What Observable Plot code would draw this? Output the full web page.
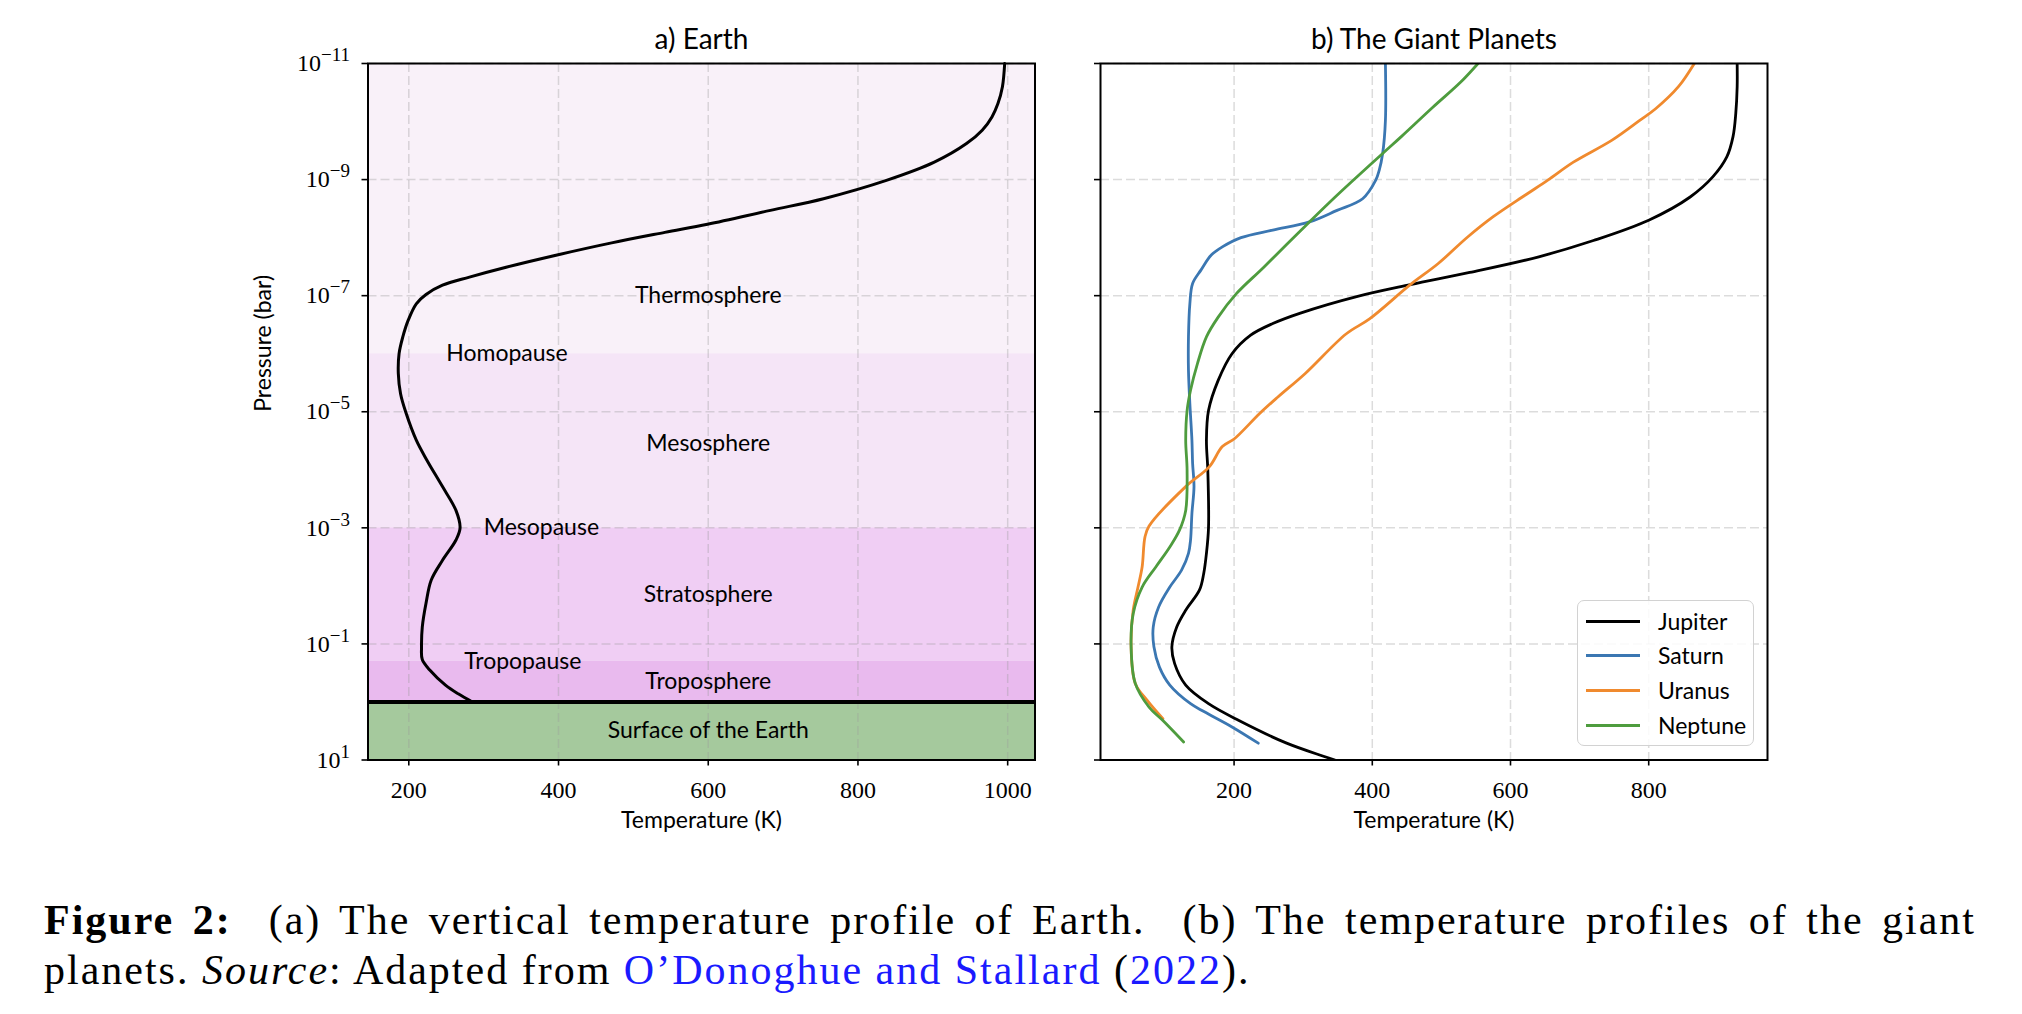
<!DOCTYPE html>
<html>
<head>
<meta charset="utf-8">
<script src="https://cdn.jsdelivr.net/npm/d3@7"></script>
<script src="https://cdn.jsdelivr.net/npm/@observablehq/plot@0.6"></script>
<style>
  body { margin: 0; background: #fff; }
  #fig { position: relative; width: 2022px; height: 1014px; overflow: hidden; }
  #earth { position: absolute; left: 0; top: 0; }
  #giants { position: absolute; left: 1060px; top: 0; }
  #legend {
    position: absolute; left: 1577px; top: 600px; width: 177px; height: 146px;
    box-sizing: border-box; border: 1.5px solid #d2d2d2; border-radius: 7px;
    background: rgba(255,255,255,0.85); font-family: Lato, sans-serif; font-size: 23px;
  }
  #legend .item { position: absolute; left: 8px; height: 30px; display: flex; align-items: center; transform: translateY(-50%); }
  #legend .sw { width: 54px; height: 3px; margin-right: 18px; }
  .caption {
    position: absolute; left: 44px; width: 1932px; font-family: "Liberation Serif", serif;
    font-size: 42px; line-height: 42px; letter-spacing: 2px; color: #000; white-space: nowrap;
  }
  #cap1 { top: 899px; text-align: justify; text-align-last: justify; white-space: normal; }
  #cap2 { top: 949px; }
  .ref { color: #1a1aff; }
</style>
</head>
<body>
<div id="fig">
  <div id="earth"></div>
  <div id="giants"></div>
  <div id="legend"></div>
  <div class="caption" id="cap1"><b>Figure 2:</b>&nbsp; (a) The vertical temperature profile of Earth.&nbsp; (b) The temperature profiles of the giant</div>
  <div class="caption" id="cap2">planets. <i>Source</i>: Adapted from <span class="ref">O’Donoghue and Stallard</span> (<span class="ref">2022</span>).</div>
</div>
<script>
// ---- Earth: temperature (K) against log10 pressure (bar) ----
const earthT = [996, 993, 987, 979, 966, 945, 902, 839, 754, 683, 599, 542, 471, 401, 330, 281, 245, 223, 210, 199, 192, 187, 186, 189, 196, 210, 224, 245, 263, 268.5, 263, 245, 230, 223, 218, 217, 218, 228, 249, 266, 285];
const earthLogP = [-11, -10.6, -10.31, -10.08, -9.85, -9.62, -9.30, -8.99, -8.67, -8.47, -8.23, -8.09, -7.91, -7.71, -7.49, -7.32, -7.18, -7.02, -6.86, -6.57, -6.29, -6.0, -5.66, -5.31, -4.99, -4.51, -4.17, -3.71, -3.30, -3.0, -2.79, -2.44, -2.10, -1.70, -1.29, -0.95, -0.73, -0.55, -0.29, -0.14, 0.0];

// Atmospheric layers (pressure bounds in bar) and their shading
const bandTop = [1e-11, 1e-6, 1e-3, 0.2, 1];
const bandBottom = [1e-6, 1e-3, 0.2, 1, 10];
const bandColors = ["#f9f1f9", "#f5e5f7", "#f0cef4", "#e9baee", "#a5c99d"];

// Layer annotations
const labelText = ["Thermosphere", "Homopause", "Mesosphere", "Mesopause", "Stratosphere", "Tropopause", "Troposphere", "Surface of the Earth"];
const labelT = [600, 250, 600, 300, 600, 274, 600, 600];
const labelLogP = [-7, -6, -4.45, -3, -1.85, -0.7, -0.35, 0.5];
const labelAnchor = ["middle", "start", "middle", "start", "middle", "start", "middle", "middle"];

// ---- Giant planets ----
const planets = ["Jupiter", "Saturn", "Uranus", "Neptune"];
const planetColors = ["#000000", "#3b77b2", "#f08a2e", "#4e9c3e"];

const jupiterT = [928, 928, 926, 922, 913, 893, 860, 800, 720, 641, 541, 455, 376, 296, 256, 224, 197, 177, 163, 160, 162, 163, 160, 156, 150, 130, 117, 110, 114, 130, 163, 207, 276, 346];
const jupiterLogP = [-11, -10.6, -10.14, -9.74, -9.39, -9.05, -8.70, -8.30, -7.95, -7.67, -7.40, -7.19, -6.98, -6.70, -6.52, -6.32, -6.0, -5.54, -5.02, -4.51, -3.99, -3.0, -2.56, -2.21, -1.93, -1.58, -1.29, -0.95, -0.66, -0.29, 0.03, 0.32, 0.71, 1.0];

const saturnT = [419, 419, 415, 410, 405, 386, 349, 309, 256, 210, 183, 167, 152, 140, 136, 134, 134, 136, 139, 140, 142, 139, 137, 134, 124, 107, 91, 83, 84, 92, 107, 137, 157, 197, 235];
const saturnLogP = [-11, -10.02, -9.45, -9.16, -8.99, -8.67, -8.47, -8.27, -8.13, -8.0, -7.84, -7.70, -7.44, -7.21, -6.86, -6.29, -5.71, -5.14, -4.51, -4.11, -3.71, -3.25, -2.79, -2.56, -2.27, -1.98, -1.64, -1.29, -0.95, -0.60, -0.29, 0.03, 0.17, 0.43, 0.71];

const uranusT = [866, 843, 810, 787, 747, 691, 654, 621, 575, 538, 495, 455, 396, 362, 303, 263, 237, 200, 183, 164, 130, 77, 71, 67, 61, 54, 51, 57, 74, 97];
const uranusLogP = [-11, -10.6, -10.22, -10.02, -9.68, -9.30, -8.99, -8.73, -8.36, -8.01, -7.55, -7.19, -6.60, -6.34, -5.66, -5.25, -4.97, -4.53, -4.40, -4.05, -3.71, -3.03, -2.84, -2.33, -1.98, -1.58, -0.95, -0.32, -0.03, 0.29];

const neptuneT = [553, 528, 488, 442, 415, 349, 309, 243, 203, 177, 160, 147, 137, 132, 130, 132, 130, 121, 107, 87, 67, 54, 51, 57, 77, 97, 127];
const neptuneLogP = [-11, -10.68, -10.25, -9.74, -9.45, -8.73, -8.27, -7.49, -7.03, -6.63, -6.29, -5.83, -5.37, -5.02, -4.51, -3.99, -3.30, -2.96, -2.67, -2.33, -1.98, -1.52, -0.95, -0.32, 0.09, 0.32, 0.69];

// Axis ticks
const pressureTicks = [1e-11, 1e-9, 1e-7, 1e-5, 1e-3, 1e-1, 1e1];
const earthTempTicks = [200, 400, 600, 800, 1000];
const giantTempTicks = [200, 400, 600, 800];

const SANS = "Lato, 'Noto Sans', sans-serif";
const SERIF = "'Liberation Serif', serif";

const profile = (T, logP) => T.map((t, i) => ({t, p: 10 ** logP[i]}));
const decade = d => "10^" + Math.round(Math.log10(d));

const gridStyle = {stroke: "#9a9a9a", strokeOpacity: 0.35, strokeWidth: 1.5, strokeDasharray: "9,4"};
const tickStyle = {tickSize: 6, strokeWidth: 1.6, fontSize: 24, fontFamily: SERIF, label: null};
const sansText = {fontFamily: SANS, fontSize: 23, fill: "#000", lineAnchor: "middle"};

// Turn "10^-7" tick labels into a base with a raised exponent
function superscriptTicks(svg) {
  svg.querySelectorAll('[aria-label="y-axis tick label"] text').forEach(el => {
    const m = /^10\^(-?\d+)$/.exec(el.textContent);
    if (!m) return;
    el.textContent = "";
    const ns = "http://www.w3.org/2000/svg";
    const base = document.createElementNS(ns, "tspan");
    base.textContent = "10";
    const sup = document.createElementNS(ns, "tspan");
    sup.textContent = m[1].replace("-", "\u2212");
    sup.setAttribute("font-size", "19px");
    sup.setAttribute("dy", "-10");
    el.append(base, sup);
  });
}

// ---- Panel a) Earth ----
const bands = bandTop.map((top, i) => ({top, bottom: bandBottom[i], color: bandColors[i]}));
const labels = labelText.map((text, i) => ({text, t: labelT[i], p: 10 ** labelLogP[i], anchor: labelAnchor[i]}));

const earth = Plot.plot({
  width: 1050, height: 860,
  marginLeft: 367.5, marginRight: 15.5, marginTop: 63, marginBottom: 100.5,
  style: {fontFamily: SERIF, fontSize: "24px", background: "transparent", color: "#000"},
  x: {domain: [145.5, 1036.5]},
  y: {type: "log", domain: [10, 1e-11]},
  color: {type: "identity"},
  marks: [
    Plot.rect(bands, {y1: "top", y2: "bottom", fill: "color"}),
    Plot.gridX({ticks: earthTempTicks, ...gridStyle}),
    Plot.gridY({ticks: pressureTicks, ...gridStyle}),
    Plot.line(profile(earthT, earthLogP), {x: "t", y: "p", stroke: "#000", strokeWidth: 3, curve: "catmull-rom"}),
    Plot.ruleY([1], {stroke: "#000", strokeWidth: 4}),
    Plot.text(labels.filter(d => d.anchor === "middle"), {x: "t", y: "p", text: "text", textAnchor: "middle", ...sansText}),
    Plot.text(labels.filter(d => d.anchor === "start"), {x: "t", y: "p", text: "text", textAnchor: "start", ...sansText}),
    Plot.axisX({ticks: earthTempTicks, tickFormat: d => String(d), tickPadding: 15, ...tickStyle}),
    Plot.axisY({ticks: pressureTicks, tickFormat: decade, tickPadding: 12, ...tickStyle}),
    Plot.text(["a) Earth"], {frameAnchor: "top", dy: -23, ...sansText, fontSize: 28}),
    Plot.text(["Temperature (K)"], {frameAnchor: "bottom", dy: 61, ...sansText}),
    Plot.text(["Pressure (bar)"], {frameAnchor: "left", dx: -104, rotate: -90, ...sansText}),
    Plot.frame({stroke: "#000", strokeWidth: 2})
  ]
});
superscriptTicks(earth);
document.getElementById("earth").append(earth);

// ---- Panel b) The Giant Planets ----
const series = [
  profile(jupiterT, jupiterLogP),
  profile(saturnT, saturnLogP),
  profile(uranusT, uranusLogP),
  profile(neptuneT, neptuneLogP)
];

const giants = Plot.plot({
  width: 720, height: 860,
  marginLeft: 40, marginRight: 13, marginTop: 63, marginBottom: 100.5,
  style: {fontFamily: SERIF, fontSize: "24px", background: "transparent", color: "#000"},
  x: {domain: [6.7, 971.9]},
  y: {type: "log", domain: [10, 1e-11]},
  marks: [
    Plot.gridX({ticks: giantTempTicks, ...gridStyle}),
    Plot.gridY({ticks: pressureTicks, ...gridStyle}),
    ...series.map((d, i) => Plot.line(d, {x: "t", y: "p", stroke: planetColors[i], strokeWidth: 2.8, curve: "catmull-rom", clip: true})),
    Plot.axisX({ticks: giantTempTicks, tickFormat: d => String(d), tickPadding: 15, ...tickStyle}),
    Plot.axisY({ticks: pressureTicks, tickFormat: () => "", ...tickStyle}),
    Plot.text(["b) The Giant Planets"], {frameAnchor: "top", dy: -23, ...sansText, fontSize: 28}),
    Plot.text(["Temperature (K)"], {frameAnchor: "bottom", dy: 61, ...sansText}),
    Plot.frame({stroke: "#000", strokeWidth: 2})
  ]
});
document.getElementById("giants").append(giants);

// Legend for the planet profiles
const legend = document.getElementById("legend");
const rowY = [20, 54, 89, 124];
planets.forEach((name, i) => {
  const item = document.createElement("div");
  item.className = "item";
  item.style.top = rowY[i] + "px";
  const sw = document.createElement("div");
  sw.className = "sw";
  sw.style.background = planetColors[i];
  const label = document.createElement("span");
  label.textContent = name;
  item.append(sw, label);
  legend.append(item);
});
</script>
</body>
</html>
